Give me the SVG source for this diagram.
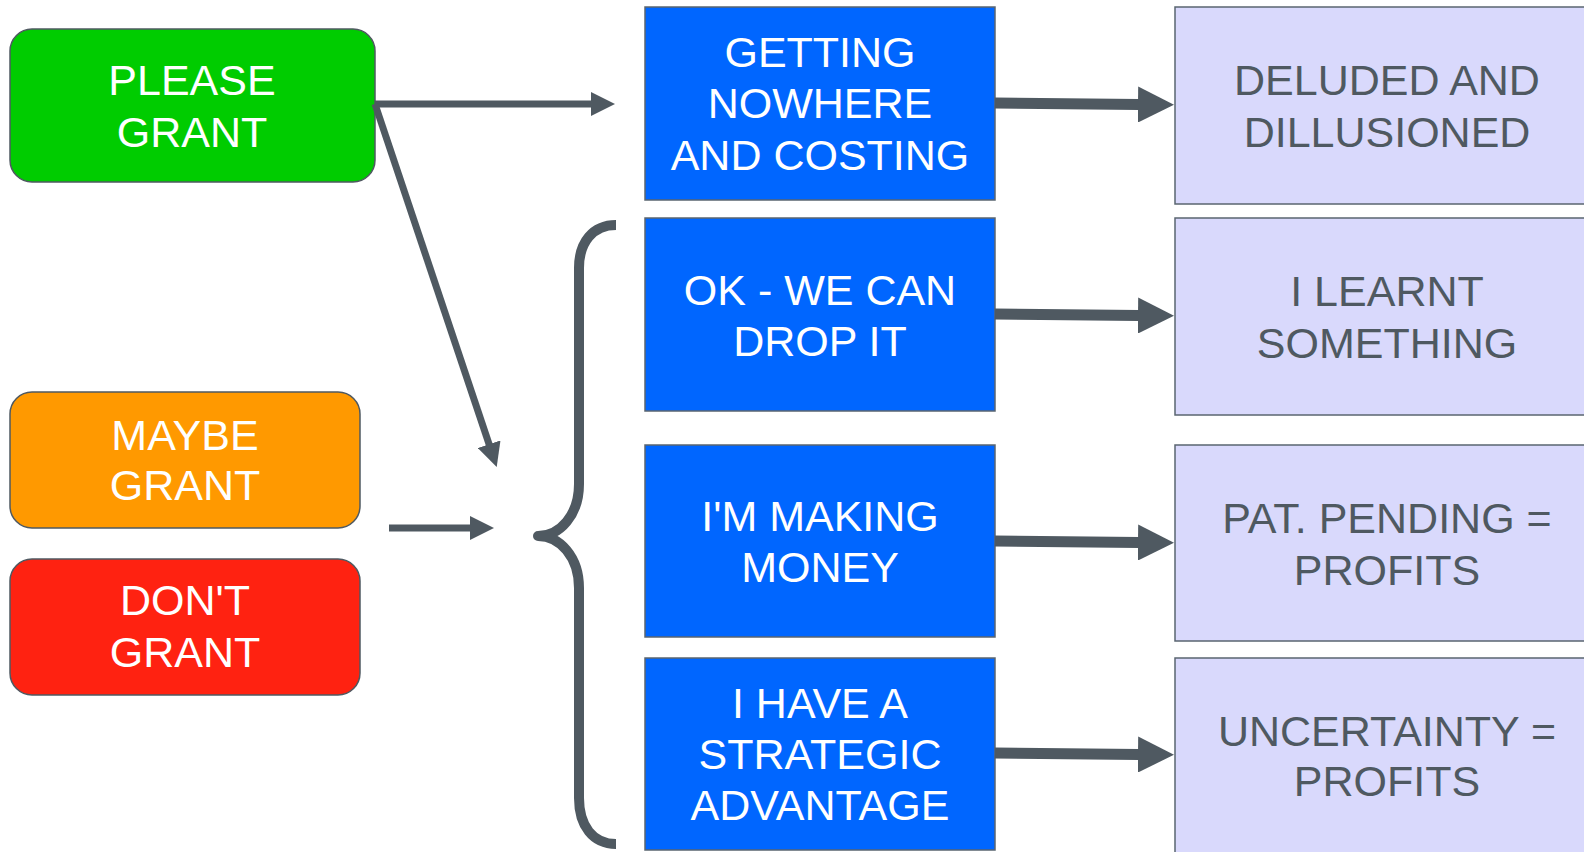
<svg xmlns="http://www.w3.org/2000/svg" width="1584" height="852" viewBox="0 0 1584 852">
<style>
.lbl{font-family:"Liberation Sans",Arial,sans-serif;font-size:43px;text-anchor:middle}
.w{fill:#ffffff}
.g{fill:#4f5961}
.rb{stroke:#4f5961;stroke-width:1.5}
.blue{fill:#0066ff;stroke:#5a6570;stroke-width:1.5}
.lav{fill:#d9d9fc;stroke:#5a6570;stroke-width:1.5}
.thin{stroke:#4f5961;stroke-width:7;fill:none}
.thick{stroke:#4f5961;stroke-width:11;fill:none}
</style>
<defs>
<marker id="ah" viewBox="0 0 24 24" refX="1" refY="12" markerWidth="24" markerHeight="24" markerUnits="userSpaceOnUse" orient="auto">
<path d="M0,0 L24,12 L0,24 z" fill="#4f5961"/>
</marker>
<marker id="ahb" viewBox="0 0 36 36" refX="1" refY="18" markerWidth="36" markerHeight="36" markerUnits="userSpaceOnUse" orient="auto">
<path d="M0,0 L36,18 L0,36 z" fill="#4f5961"/>
</marker>
</defs>
<rect width="1584" height="852" fill="#ffffff"/>
<g id="please">
<rect x="10" y="29" width="365" height="153" rx="22" fill="#00cc00" class="rb"/>
<text class="lbl w" x="192" y="95">PLEASE</text>
<text class="lbl w" x="192" y="147">GRANT</text>
</g>
<g id="maybe">
<rect x="10" y="392" width="350" height="136" rx="22" fill="#ff9900" class="rb"/>
<text class="lbl w" x="185" y="450">MAYBE</text>
<text class="lbl w" x="185" y="500">GRANT</text>
</g>
<g id="dont">
<rect x="10" y="559" width="350" height="136" rx="22" fill="#ff2211" class="rb"/>
<text class="lbl w" x="185" y="615">DON'T</text>
<text class="lbl w" x="185" y="667">GRANT</text>
</g>
<g id="b1">
<rect x="645" y="7" width="350" height="193" class="blue"/>
<text class="lbl w" x="820" y="67">GETTING</text>
<text class="lbl w" x="820" y="118">NOWHERE</text>
<text class="lbl w" x="820" y="170">AND COSTING</text>
</g>
<g id="b2">
<rect x="645" y="218" width="350" height="193" class="blue"/>
<text class="lbl w" x="820" y="305">OK - WE CAN</text>
<text class="lbl w" x="820" y="356">DROP IT</text>
</g>
<g id="b3">
<rect x="645" y="445" width="350" height="192" class="blue"/>
<text class="lbl w" x="820" y="531">I'M MAKING</text>
<text class="lbl w" x="820" y="582">MONEY</text>
</g>
<g id="b4">
<rect x="645" y="658" width="350" height="192" class="blue"/>
<text class="lbl w" x="820" y="718">I HAVE A</text>
<text class="lbl w" x="820" y="769">STRATEGIC</text>
<text class="lbl w" x="820" y="820">ADVANTAGE</text>
</g>
<g id="r1">
<rect x="1175" y="7" width="430" height="197" class="lav"/>
<text class="lbl g" x="1387" y="95">DELUDED AND</text>
<text class="lbl g" x="1387" y="147">DILLUSIONED</text>
</g>
<g id="r2">
<rect x="1175" y="218" width="430" height="197" class="lav"/>
<text class="lbl g" x="1387" y="306">I LEARNT</text>
<text class="lbl g" x="1387" y="358">SOMETHING</text>
</g>
<g id="r3">
<rect x="1175" y="445" width="430" height="196" class="lav"/>
<text class="lbl g" x="1387" y="533">PAT. PENDING =</text>
<text class="lbl g" x="1387" y="585">PROFITS</text>
</g>
<g id="r4">
<rect x="1175" y="658" width="430" height="210" class="lav"/>
<text class="lbl g" x="1387" y="746">UNCERTAINTY =</text>
<text class="lbl g" x="1387" y="796">PROFITS</text>
</g>
<g id="connectors">
<line class="thin" x1="375" y1="104" x2="592" y2="104" marker-end="url(#ah)"/>
<line class="thin" x1="375" y1="104" x2="489.4" y2="445.2" marker-end="url(#ah)"/>
<line class="thin" x1="389" y1="528" x2="471" y2="528" marker-end="url(#ah)"/>
<path d="M616 225 C593 225 579 242 579 268 L579 484 C579 515 560 536 538 536 C560 536 579 557 579 588 L579 798 C579 826 593 844 616 844" stroke="#4f5961" stroke-width="10" fill="none" stroke-linejoin="round"/>
<line class="thick" x1="995" y1="103" x2="1139" y2="104.5" marker-end="url(#ahb)"/>
<line class="thick" x1="995" y1="314" x2="1139" y2="315.5" marker-end="url(#ahb)"/>
<line class="thick" x1="995" y1="541" x2="1139" y2="542.5" marker-end="url(#ahb)"/>
<line class="thick" x1="995" y1="753" x2="1139" y2="754.5" marker-end="url(#ahb)"/>
</g>
</svg>
